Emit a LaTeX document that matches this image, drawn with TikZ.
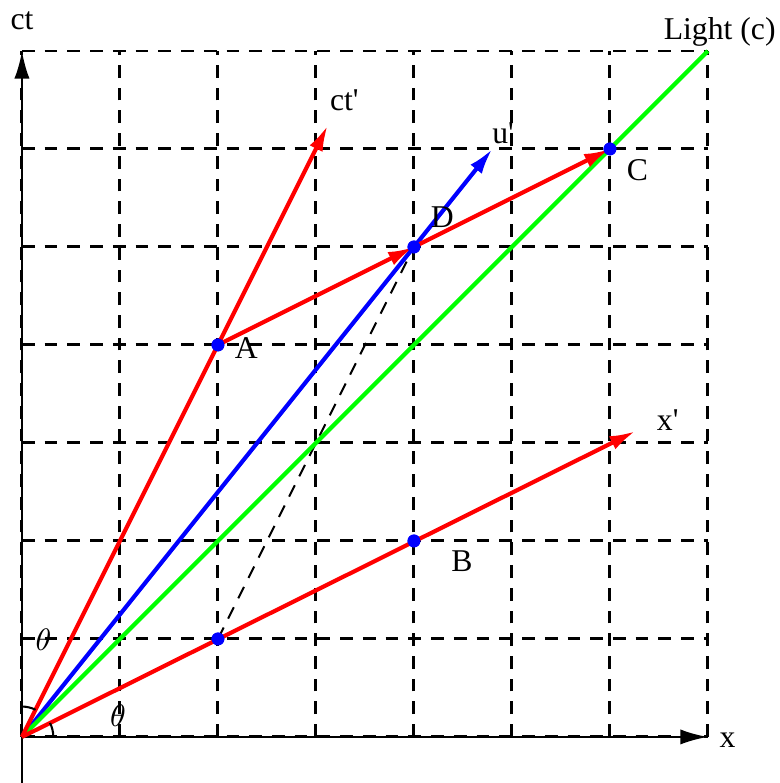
\documentclass[tikz,border=0pt]{standalone}
\usepackage{fontspec}
\setmainfont{Liberation Serif}
\usetikzlibrary{arrows.meta}
\tikzstyle{gridline} = [black, line width=0.85pt, dash pattern=on 3.7pt off 2.9pt]
\tikzstyle{axis} = [-{Latex[length=8pt,width=4.4pt]}, line width=0.7pt]
\tikzstyle{vec} = [-{Latex[length=7.5pt,width=4.2pt]}, line width=1.2pt]
\tikzstyle{dot} = [circle, fill=blue, inner sep=0pt, minimum size=3.7pt]
\tikzstyle{lbl} = [font=\fontsize{9.2}{11}\selectfont, inner sep=0pt]

\begin{document}
\begin{tikzpicture}
    \useasboundingbox (-0.224,-0.47) rectangle (7.73,7.52);
    % grid
    \draw[gridline] (0,0) grid (7,7);
    \coordinate (O) at (0,0);
    \coordinate (ybot) at (0,-0.47);
    \coordinate (ytop) at (0,7);
    \coordinate (xend) at (7,0);
    \coordinate (ctp) at (3.12,6.24);
    \coordinate (xp) at (6.26,3.12);
    \coordinate (up) at (4.8,6.0);
    \coordinate (L) at (7,7);
    % axes
    \draw[axis] (ybot) -- (ytop);
    \draw[axis] (O) -- (xend);
    % points
    \node (A) [dot] at (2,4) {};
    \node (B) [dot] at (4,2) {};
    \node (C) [dot] at (6,6) {};
    \node (D) [dot] at (4,5) {};
    \node (E) [dot] at (2,1) {};
    % world lines
    \draw[black, line width=0.6pt, dash pattern=on 3.7pt off 2.9pt] (E.center) -- (D.center);
    \draw[vec, blue] (O) -- (up);
    \draw[green, line width=1.2pt] (O) -- (L);
    \draw[vec, red] (O) -- (ctp);
    \draw[vec, red] (O) -- (xp);
    \draw[vec, red] (A.center) -- (D.center);
    \draw[vec, red] (D.center) -- (C.center);
    % angles
    \draw[line width=0.6pt] (0.32,0) arc (0:26.57:0.32);
    \draw[line width=0.6pt] (0,0.31) arc (90:63.43:0.31);
    % dots on top
    \foreach \p in {A,B,C,D,E} \fill[blue] (\p) circle (0.066);
    % labels
    \node (lct) [lbl] at (0,7.31) {ct};
    \node (lx) [lbl] at (7.2,-0.03) {x};
    \node (llight) [lbl] at (7.12,7.19) {Light (c)};
    \node (lctp) [lbl] at (3.29,6.5) {ct\textquotesingle};
    \node (lup) [lbl] at (4.91,6.16) {u\textquotesingle};
    \node (lxp) [lbl] at (6.59,3.23) {x\textquotesingle};
    \node (lA) [lbl] at (2.29,3.97) {A};
    \node (lB) [lbl] at (4.49,1.79) {B};
    \node (lC) [lbl] at (6.28,5.78) {C};
    \node (lD) [lbl] at (4.29,5.3) {D};
    \node (lt1) [lbl] at (0.22,0.99) {$\theta$};
    \node (lt2) [lbl] at (0.98,0.22) {$\theta$};
\end{tikzpicture}
\end{document}
